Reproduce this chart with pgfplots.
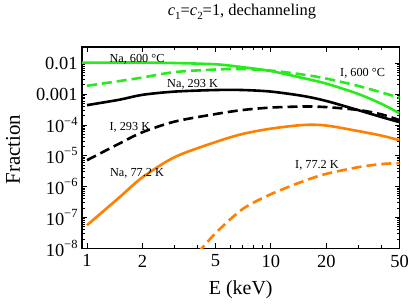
\documentclass[border=0pt]{standalone}
\usepackage{fontspec}
\setmainfont{Liberation Serif}
\usepackage{pgfplots}
\pgfplotsset{compat=1.18}
\definecolor{mgreen}{RGB}{40,235,30}
\definecolor{morange}{RGB}{255,128,0}
\newcommand{\ex}[1]{10\raisebox{0.42em}{\fontsize{12.5}{12.5}\selectfont −#1}}
\begin{document}
\begin{tikzpicture}[x=1bp,y=1bp]
\useasboundingbox (0,0) rectangle (409,307);
\begin{axis}[
  at={(82bp,58.7bp)}, anchor=south west,
  scale only axis, width=317.5bp, height=201.3bp,
  xmode=log, ymode=log,
  xmin=0.939, xmax=50, ymin=1e-8, ymax=0.0338,
  axis line style={line width=1.2bp},
  every tick/.style={black, line width=0.9bp},
  tick align=inside,
  major tick length=5bp, minor tick length=3bp,
  xtick={1,2,5,10,20,50}, xticklabels={1,2,5,10,20,50},
  minor xtick={3,4,6,7,8,9,30,40},
  ytick={1e-8,1e-7,1e-6,1e-5,1e-4,1e-3,1e-2},
  yticklabels={\ex{8},\ex{7},\ex{6},\ex{5},\ex{4},0.001,0.01},
  minor ytick={},
  /pgf/number format/assume math mode=true,
  tick label style={font=\fontsize{18.5}{18.5}\selectfont},
  xticklabel style={yshift=-3bp},
  yticklabel style={xshift=-1bp},
  xlabel={E (keV)},
  xlabel style={font=\fontsize{20}{20}\selectfont, at={(axis description cs:0.5,-0.207)}, anchor=center},
  ylabel={Fraction},
  ylabel style={font=\fontsize{21}{21}\selectfont, at={(axis description cs:-0.217,0.49)}, anchor=center},
  clip=true,
]
% Na, 600 C
\addplot[mgreen, line width=2.6bp, smooth] coordinates {
(0.939,0.0105) (1,0.0105) (1.5,0.0106) (2,0.0106) (3,0.0102) (5,0.0093) (7,0.0075) (10,0.0056) (15,0.0033) (20,0.0022) (30,0.00100) (40,0.00048) (50,0.00024)};
% I, 600 C
\addplot[mgreen, line width=2.6bp, smooth, dash pattern=on 10bp off 5bp] coordinates {
(1,0.00187) (1.5,0.00266) (2,0.00346) (3,0.0052) (5,0.0063) (7,0.0065) (10,0.0058) (15,0.0043) (20,0.0032) (30,0.00183) (40,0.00113) (50,0.00077)};
% Na, 293 K
\addplot[black, line width=2.6bp, smooth] coordinates {
(1,0.00044) (1.5,0.00066) (2,0.00095) (3,0.00121) (5,0.00136) (7,0.00136) (10,0.00121) (15,0.00087) (20,0.00060) (30,0.00030) (40,0.00018) (50,0.000124)};
% I, 293 K
\addplot[black, line width=2.6bp, smooth, dash pattern=on 10bp off 5bp] coordinates {
(1,7.2e-6) (1.5,2.5e-5) (2,5.8e-5) (3,1.29e-4) (5,2.26e-4) (7,3.05e-4) (10,3.67e-4) (15,3.97e-4) (20,3.8e-4) (30,3.05e-4) (40,2.2e-4) (50,1.44e-4)};
% Na, 77.2 K
\addplot[morange, line width=2.6bp, smooth] coordinates {
(1,5.6e-8) (1.5,4.5e-7) (2,2.0e-6) (3,9.1e-6) (5,2.8e-5) (7,5.1e-5) (10,7.6e-5) (15,1.0e-4) (20,9.6e-5) (30,6.3e-5) (40,4.5e-5) (50,3.2e-5)};
% I, 77.2 K
\addplot[morange, line width=2.6bp, smooth, dash pattern=on 10bp off 5bp] coordinates {
(4,7e-9) (5,3.1e-8) (7,1.86e-7) (10,5.7e-7) (15,1.5e-6) (20,2.6e-6) (30,4.3e-6) (40,5.4e-6) (50,5.8e-6)};
\begin{scope}[every node/.style={font=\fontsize{12.3}{12.3}\selectfont, inner sep=0pt}]
\node at (axis cs:1.87,0.0138) {Na, 600 °C};
\node at (axis cs:31.5,0.00484) {I, 600 °C};
\node at (axis cs:3.75,0.00213) {Na, 293 K};
\node at (axis cs:1.71,8.55e-5) {I, 293 K};
\node at (axis cs:1.87,2.74e-6) {Na, 77.2 K};
\node at (axis cs:17.8,5.0e-6) {I, 77.2 K};
\end{scope}
\end{axis}
\node[font=\fontsize{16.5}{16.5}\selectfont, inner sep=0pt] at (242,295)
  {\textit{c}\raisebox{-0.2em}{\fontsize{11}{11}\selectfont 1}=\textit{c}\raisebox{-0.2em}{\fontsize{11}{11}\selectfont 2}=1, dechanneling};
\end{tikzpicture}
\end{document}
